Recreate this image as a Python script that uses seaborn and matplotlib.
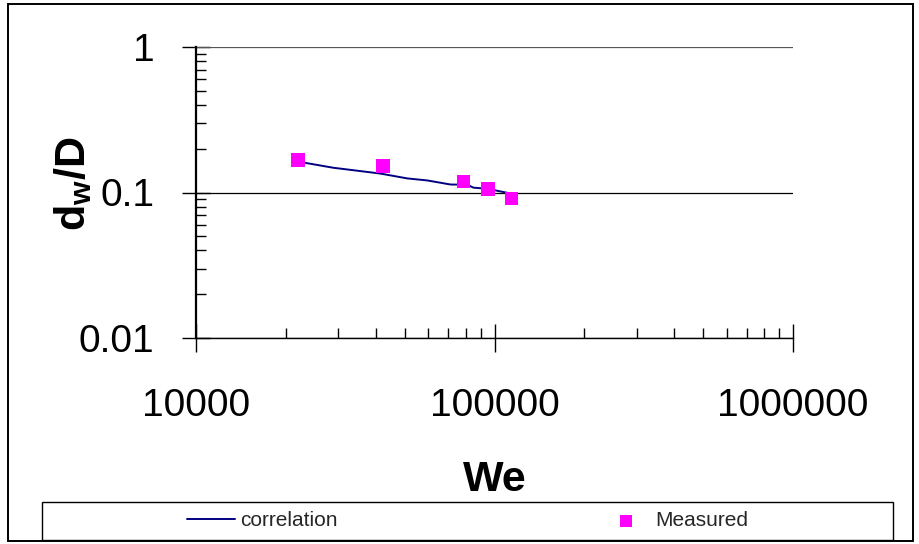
import matplotlib
matplotlib.use("Agg")
import matplotlib.pyplot as plt
import seaborn as sns
import pandas as pd
from matplotlib.patches import Rectangle
from matplotlib.ticker import LogLocator, NullFormatter, FixedLocator, FixedFormatter

# ---- data ----
corr_we = [22000, 28800, 41400, 51000, 59600, 71200, 81100, 85000, 94800, 113200]
corr_d = [0.163, 0.148, 0.135, 0.125, 0.121, 0.1135, 0.113, 0.108, 0.106, 0.0985]
meas_we = [22000, 42400, 78700, 94800, 114000]
meas_d = [0.167, 0.153, 0.119, 0.106, 0.091]
x_ticks = [10000, 100000, 1000000]
x_tick_labels = ["10000", "100000", "1000000"]
y_ticks = [0.01, 0.1, 1]
y_tick_labels = ["0.01", "0.1", "1"]

corr_df = pd.DataFrame({"We": corr_we, "d": corr_d})
meas_df = pd.DataFrame({"We": meas_we, "d": meas_d})

sns.set_theme(style="white")
plt.rcParams["font.family"] = ["Liberation Sans", "DejaVu Sans"]
plt.rcParams["mathtext.fontset"] = "custom"
plt.rcParams["mathtext.rm"] = "Liberation Sans"
plt.rcParams["mathtext.bf"] = "Liberation Sans:bold"
plt.rcParams["mathtext.it"] = "Liberation Sans:italic"

W, H = 920, 544
fig = plt.figure(figsize=(W / 100, H / 100), dpi=100)
ax = fig.add_axes([196 / W, 1 - 338 / H, (793 - 196) / W, (338 - 47) / H])

# gridlines
for yv, col in zip(y_ticks, ["black", "black", "#555555"]):
    ax.axhline(yv, color=col, lw=0.9, zorder=1)

sns.lineplot(data=corr_df, x="We", y="d", ax=ax, color="#000080", lw=1.4,
             label="correlation", sort=False, zorder=3)
sns.scatterplot(data=meas_df, x="We", y="d", ax=ax, color="#FF00FF", marker="s",
                s=100, edgecolor="none", label="Measured", zorder=4)

ax.set_xscale("log")
ax.set_yscale("log")
ax.set_xlim(10000, 1000000)
ax.set_ylim(0.01, 1)

ax.xaxis.set_major_locator(FixedLocator(x_ticks))
ax.xaxis.set_major_formatter(FixedFormatter(x_tick_labels))
ax.yaxis.set_major_locator(FixedLocator(y_ticks))
ax.yaxis.set_major_formatter(FixedFormatter(y_tick_labels))
ax.xaxis.set_minor_locator(LogLocator(base=10, subs=range(2, 10)))
ax.yaxis.set_minor_locator(LogLocator(base=10, subs=range(2, 10)))
ax.xaxis.set_minor_formatter(NullFormatter())
ax.yaxis.set_minor_formatter(NullFormatter())

ax.tick_params(axis="both", which="major", direction="inout", length=20, width=1.0,
               color="black", labelsize=28, labelcolor="black")
ax.tick_params(axis="x", which="major", pad=26)
ax.tick_params(axis="y", which="major", pad=20)
ax.tick_params(axis="both", which="minor", direction="in", length=7, width=1.0, color="black")
ax.tick_params(bottom=True, left=True, top=False, right=False, which="both")

for s in ["top", "right"]:
    ax.spines[s].set_visible(False)
ax.spines["left"].set_color("black")
ax.spines["left"].set_linewidth(1.6)
ax.spines["bottom"].set_color("black")
ax.spines["bottom"].set_linewidth(1.0)

ax.set_xlabel("We", fontsize=31, fontweight="bold", color="black")
ax.set_ylabel(r"$\mathbf{d_w/D}$", fontsize=31, color="black")
ax.xaxis.set_label_coords(0.5, -0.42)
ax.yaxis.set_label_coords(-0.17, 0.53)

ax.get_legend().remove()
handles, labels = ax.get_legend_handles_labels()
leg = fig.legend(handles, labels, ncol=2, loc="center", bbox_to_anchor=(467.5 / W, 1 - 521 / H),
                 frameon=False, fontsize=15, handlelength=2.3, handletextpad=0.25,
                 columnspacing=12.7, markerscale=0.8)

# legend box and outer chart border
fig.patches.append(Rectangle((42 / W, 1 - 540 / H), (893 - 42) / W, (540 - 502) / H,
                             transform=fig.transFigure, fill=False, ec="black", lw=1.0))
fig.patches.append(Rectangle((8 / W, 1 - 541 / H), (913 - 8) / W, (541 - 4) / H,
                             transform=fig.transFigure, fill=False, ec="black", lw=1.4))

fig.savefig("out.png", dpi=100, facecolor="white")
